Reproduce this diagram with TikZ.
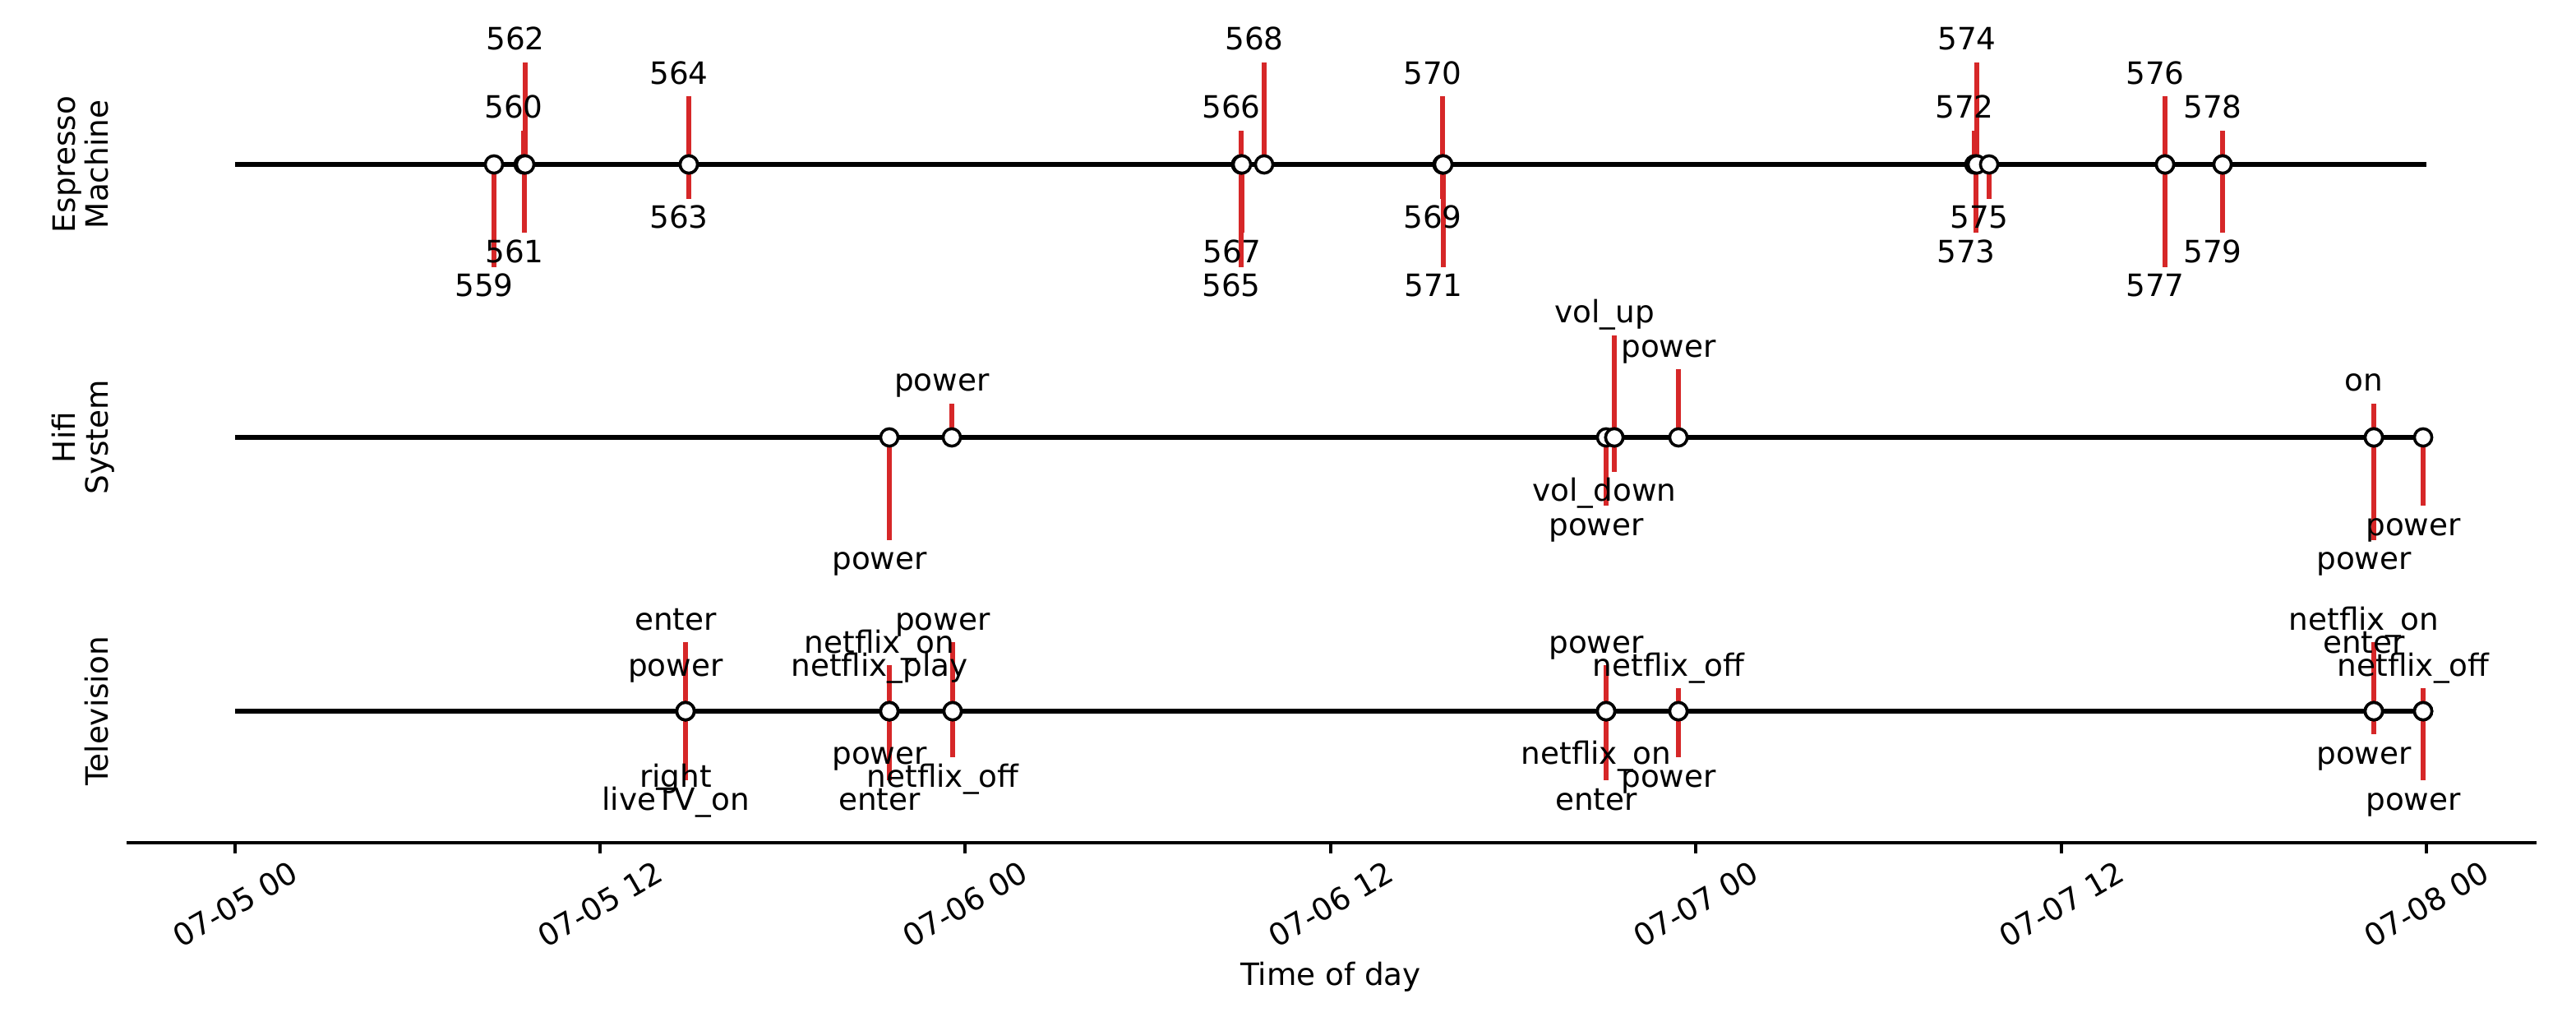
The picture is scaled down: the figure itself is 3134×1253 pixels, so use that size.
\documentclass[tikz,border=0pt]{standalone}
\usepackage{fontspec}
\setmainfont{DejaVu Sans}
\usetikzlibrary{positioning,backgrounds}
\definecolor{tlRed}{RGB}{214,39,40}
\tikzset{
    base/.style={font=\fontsize{9}{9.6}\selectfont, inner sep=0pt, outer sep=0pt},
    evlabel/.style={base, anchor=base},
    devlabel/.style={base, rotate=90, anchor=south, align=center, text depth=0pt},
    ticklabel/.style={base, rotate=30},
    stem/.style={tlRed, line width=1.35pt},
    tline/.style={black, line width=1.35pt},
    event/.style={circle, draw=black, fill=white, line width=0.85pt, minimum size=5.1pt, inner sep=0pt},
    spine/.style={black, line width=0.85pt}
}
% x position / level / label
\def\espEvents{601/-3/559, 637/1/560, 638/-2/561, 639/3/562, 838/-1/563, 838/2/564,
  1510/-3/565, 1510/1/566, 1511/-2/567, 1538/3/568, 1755/-1/569, 1755/2/570,
  1756/-3/571, 2402/1/572, 2404/-2/573, 2405/3/574, 2420/-1/575, 2634/2/576,
  2634/-3/577, 2704/1/578, 2704/-2/579}
\def\hifiEvents{1082/-3/power, 1158/1/power, 1954/-2/power, 1964/3/vol\_up,
  1964/-1/vol\_down, 2042/2/power, 2888/-3/power, 2888/1/on, 2948/-2/power}
\def\tvEvents{834/-3/liveTV\_on, 834/1/power, 834/-2/right, 834/3/enter,
  1082/-1/power, 1082/2/netflix\_on, 1082/-3/enter, 1082/1/netflix\_play,
  1159/-2/netflix\_off, 1159/3/power, 1954/-1/netflix\_on, 1954/2/power,
  1954/-3/enter, 2042/1/netflix\_off, 2042/-2/power, 2888/3/netflix\_on,
  2888/-1/power, 2888/2/enter, 2948/-3/power, 2948/1/netflix\_off}
\begin{document}
\begin{tikzpicture}[x=0.2409pt, y=-0.2409pt]
  \useasboundingbox (0,0) rectangle (3134,1253);
  \begin{pgfonlayer}{background}
    \fill[white] (0,0) rectangle (3134,1253);
  \end{pgfonlayer}

  % one timeline per device: row y / level unit
  \foreach \row/\y/\unit in {esp/200/41.5, hifi/532/41.5, tv/865/28} {
    \expandafter\let\expandafter\evlist\csname\row Events\endcsname
    \foreach \x/\lv/\txt [count=\i] in \evlist {
      \node[event] (\row\i) at (\x,\y) {};
      \pgfmathsetmacro\ey{\y-\unit*(\lv)}
      \pgfmathsetmacro\ly{\lv>0 ? \ey-15 : \ey+36}
      \coordinate (\row\i-end) at (\x,\ey);
      \node[evlabel] (\row\i-lab) at ({\x-12},\ly) {\txt};
      \begin{pgfonlayer}{background}
        \draw[stem] (\row\i.center) -- (\row\i-end);
      \end{pgfonlayer}
    }
    \coordinate (\row-start) at (286,\y);
    \coordinate (\row-stop) at (2952,\y);
    \begin{pgfonlayer}{background}
      \draw[tline] (\row-start) -- (\row-stop);
    \end{pgfonlayer}
  }

  % device names
  \node[devlabel] (espName) at (131,200) {Espresso\\Machine};
  \node[devlabel] (hifiName) at (131,532) {Hifi\\System};
  \node[devlabel] (tvName) at (131,865) {Television};

  % time axis
  \coordinate (axisL) at (154,1025);
  \coordinate (axisR) at (3086,1025);
  \draw[spine] (axisL) -- (axisR);
  \foreach \x/\t [count=\i] in {286/07-05 00, 730/07-05 12, 1174/07-06 00, 1619/07-06 12,
      2063/07-07 00, 2508/07-07 12, 2952/07-08 00} {
    \coordinate (tick\i) at (\x,1025);
    \coordinate (tickend\i) at (\x,1038);
    \draw[spine] (tick\i) -- (tickend\i);
    \node[ticklabel] (ticklab\i) at (\x,1100) {\t};
  }
  \node[evlabel] (axisName) at (1619,1198) {Time of day};
\end{tikzpicture}
\end{document}
